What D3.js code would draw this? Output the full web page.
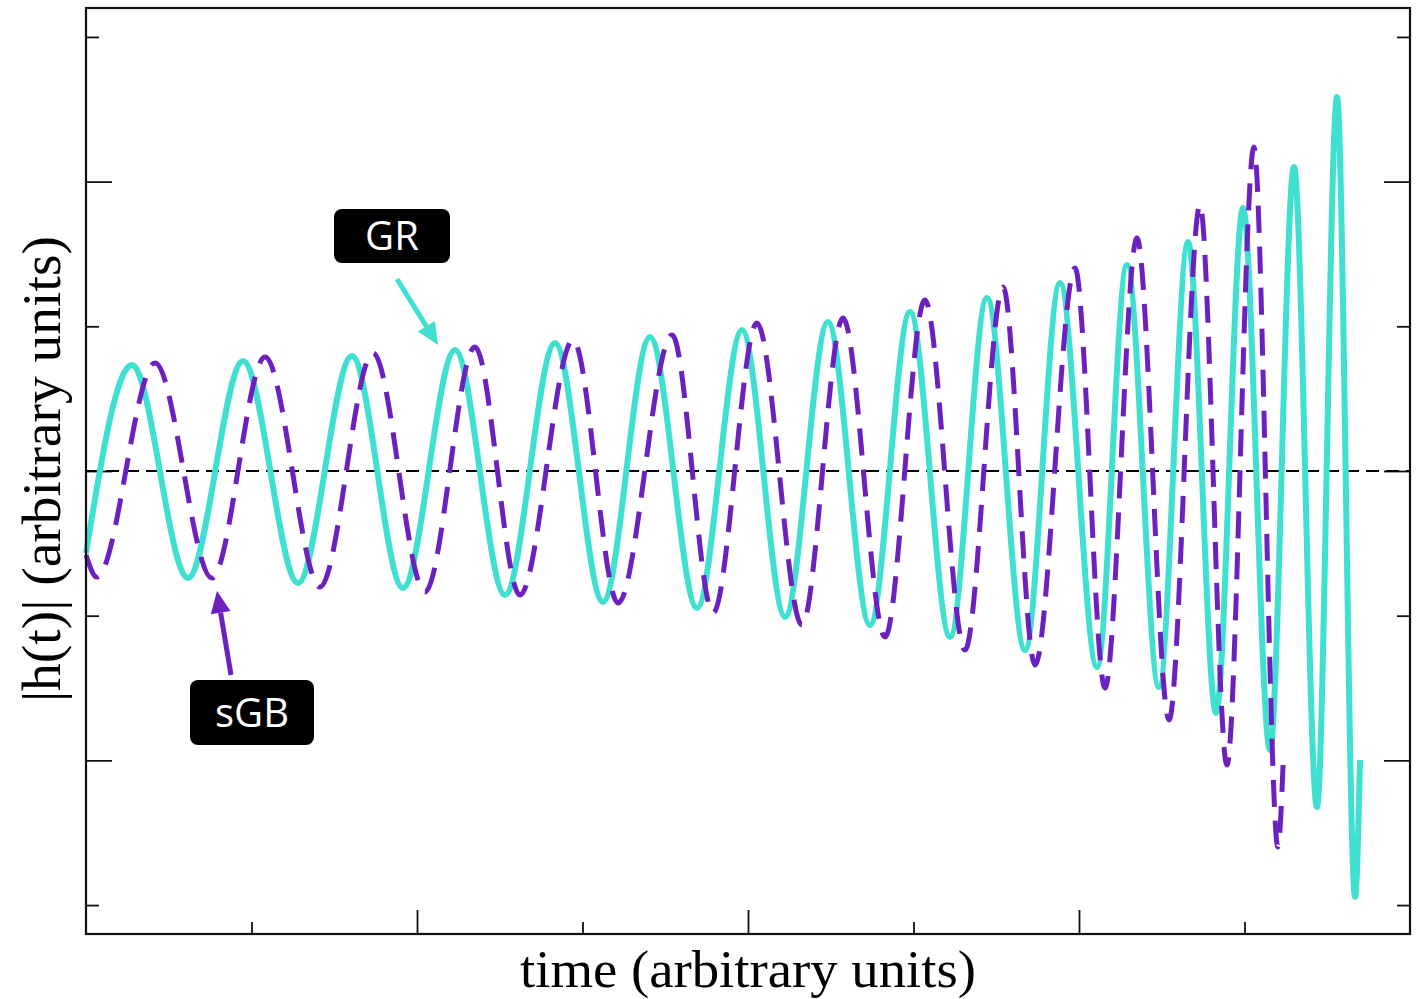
<!DOCTYPE html>
<html>
<head>
<meta charset="utf-8">
<script src="https://cdn.jsdelivr.net/npm/d3@7"></script>
<style>
  body { margin: 0; background: #fff; }
</style>
</head>
<body>
<div id="chart"></div>
<script>
// waveform extrema (time, strain) in arbitrary units
const grTime = [0, 0.278, 0.616, 0.949, 1.281, 1.607, 1.915, 2.230, 2.532, 2.834, 3.124, 3.408, 3.692, 3.964,
  4.224, 4.483, 4.737, 4.979, 5.221, 5.444, 5.674, 5.885, 6.109, 6.290, 6.483, 6.659, 6.828, 6.991,
  7.154, 7.299, 7.438, 7.559, 7.668, 7.698]
const grStrain = [-0.567, 0.733, -0.739, 0.760, -0.774, 0.795, -0.809, 0.836, -0.857, 0.885, -0.905, 0.926, -0.947, 0.974,
  -1.009, 1.030, -1.064, 1.099, -1.147, 1.196, -1.237, 1.299, -1.355, 1.424, -1.493, 1.583, -1.672, 1.818,
  -1.928, 2.101, -2.322, 2.585, -2.944, -1.997]

const sgbTime = [0, 0.066, 0.417, 0.761, 1.082, 1.414, 1.734, 2.048, 2.350, 2.622, 2.943, 3.215, 3.541, 3.789,
  4.054, 4.326, 4.574, 4.828, 5.069, 5.311, 5.541, 5.734, 5.976, 6.157, 6.350, 6.544, 6.731, 6.894,
  7.057, 7.202, 7.233]
const sgbStrain = [-0.58, -0.733, 0.746, -0.739, 0.788, -0.802, 0.815, -0.836, 0.857, -0.857, 0.905, -0.912, 0.940, -0.981,
  1.023, -1.064, 1.057, -1.147, 1.182, -1.237, 1.272, -1.341, 1.403, -1.500, 1.610, -1.721, 1.838, -2.032,
  2.239, -2.598, -2.032]

const xMajorTicks = [2, 4, 6]
const xMinorTicks = [1, 3, 5, 7]
const yMajorTicks = [-2, 0, 2]
const yMinorTicks = [-3, -1, 1, 3]

const margin = { top: 8, left: 86, right: 12, bottom: 65 }
const width = 1422 - margin.left - margin.right
const height = 999 - margin.top - margin.bottom

const svg = d3.select('#chart')
  .append('svg')
  .attr('width', 1422)
  .attr('height', 999)

const g = svg.append('g')
  .attr('transform', 'translate(' + margin.left + ',' + margin.top + ')')

// scales
const x = d3.scaleLinear().domain([0, 8]).range([0, width])
const y = d3.scaleLinear().domain([-3.2, 3.2]).range([height, 0])

// ticks (inward, long/short)
function styleAxis(sel) {
  sel.select('.domain').remove()
  sel.selectAll('.tick line').attr('stroke', '#111').attr('stroke-width', 1.8)
  sel.selectAll('.tick text').remove()
}
g.append('g').attr('transform', `translate(0,${height})`)
  .call(d3.axisBottom(x).tickValues(xMajorTicks).tickSize(-24)).call(styleAxis)
g.append('g').attr('transform', `translate(0,${height})`)
  .call(d3.axisBottom(x).tickValues(xMinorTicks).tickSize(-12)).call(styleAxis)
g.append('g').call(d3.axisLeft(y).tickValues(yMajorTicks).tickSize(-26)).call(styleAxis)
g.append('g').call(d3.axisLeft(y).tickValues(yMinorTicks).tickSize(-13)).call(styleAxis)
g.append('g').attr('transform', `translate(${width},0)`)
  .call(d3.axisRight(y).tickValues(yMajorTicks).tickSize(-26)).call(styleAxis)
g.append('g').attr('transform', `translate(${width},0)`)
  .call(d3.axisRight(y).tickValues(yMinorTicks).tickSize(-13)).call(styleAxis)

// zero line
g.append('line')
  .attr('x1', x(0)).attr('x2', x(8))
  .attr('y1', y(0)).attr('y2', y(0))
  .attr('stroke', '#000')
  .attr('stroke-width', 1.8)
  .attr('stroke-dasharray', '13,7')

const line = d3.line()
  .x(d => x(d[0]))
  .y(d => y(d[1]))
  .curve(d3.curveMonotoneX)

const grData = grTime.map((t, i) => [t, grStrain[i]])
const sgbData = sgbTime.map((t, i) => [t, sgbStrain[i]])

g.append('path')
  .datum(grData)
  .attr('d', line)
  .attr('fill', 'none')
  .attr('stroke', '#40e0d0')
  .attr('stroke-width', 6)

g.append('path')
  .datum(sgbData)
  .attr('d', line)
  .attr('fill', 'none')
  .attr('stroke', '#6d20c0')
  .attr('stroke-width', 5)
  .attr('stroke-dasharray', '27,14')

// frame
g.append('rect')
  .attr('width', width)
  .attr('height', height)
  .attr('fill', 'none')
  .attr('stroke', '#111')
  .attr('stroke-width', 2.2)

// axis labels
svg.append('text')
  .attr('x', 520)
  .attr('y', 987)
  .attr('textLength', 456)
  .attr('lengthAdjust', 'spacingAndGlyphs')
  .style('font-family', '"Liberation Serif", "DejaVu Serif", serif')
  .style('font-size', '53px')
  .text('time (arbitrary units)')

svg.append('text')
  .attr('transform', 'translate(60,702) rotate(-90)')
  .attr('textLength', 466)
  .attr('lengthAdjust', 'spacingAndGlyphs')
  .style('font-family', '"Liberation Serif", "DejaVu Serif", serif')
  .style('font-size', '54px')
  .text('|h(t)| (arbitrary units)')

// annotations
function arrow(x1, y1, x2, y2, color) {
  const ang = Math.atan2(y2 - y1, x2 - x1)
  const headLen = 22, headW = 10
  const bx = x2 - headLen * Math.cos(ang), by = y2 - headLen * Math.sin(ang)
  svg.append('line')
    .attr('x1', x1).attr('y1', y1)
    .attr('x2', bx).attr('y2', by)
    .attr('stroke', color).attr('stroke-width', 5)
  const px = -Math.sin(ang), py = Math.cos(ang)
  svg.append('polygon')
    .attr('points', [[x2, y2], [bx + px * headW, by + py * headW], [bx - px * headW, by - py * headW]].map(p => p.join(',')).join(' '))
    .attr('fill', color)
}

function label(cx, y0, w, h, txt) {
  svg.append('rect')
    .attr('x', cx - w / 2).attr('y', y0)
    .attr('width', w).attr('height', h)
    .attr('rx', 8)
    .attr('fill', '#000')
  svg.append('text')
    .attr('x', cx).attr('y', y0 + h / 2 + 14)
    .attr('text-anchor', 'middle')
    .attr('fill', '#fff')
    .style('font-family', '"Open Sans", "Noto Sans", sans-serif')
    .style('font-size', '40px')
    .text(txt)
}

label(392, 209, 116, 54, 'GR')
label(252, 680, 124, 65, 'sGB')
arrow(397, 279, 438, 345, '#40e0d0')
arrow(231, 675, 217, 591, '#6d20c0')
</script>
</body>
</html>
